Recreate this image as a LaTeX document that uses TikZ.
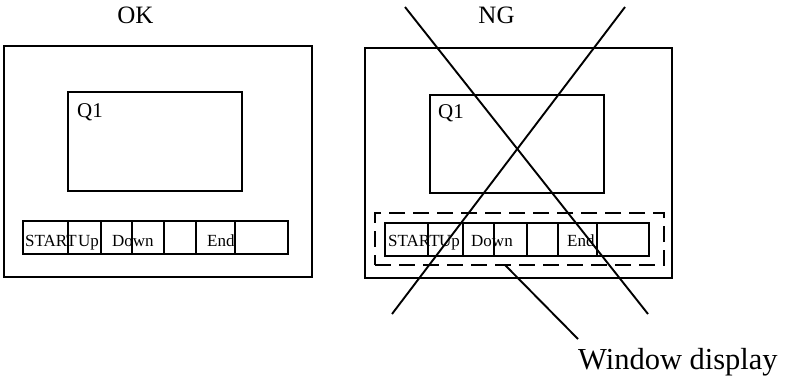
\documentclass[tikz,border=0pt]{standalone}
\usepackage{fontspec}
\setmainfont{Liberation Serif}
\begin{document}
\begin{tikzpicture}[x=1pt,y=-1pt,
  frame/.style={draw, line width=2pt, inner sep=0pt, outer sep=0pt, anchor=north west},
  lbl/.style={inner sep=0pt, anchor=base west},
  btn/.style={lbl, font=\fontsize{17}{17}\selectfont},
  ttl/.style={inner sep=0pt, anchor=base, font=\fontsize{25}{25}\selectfont},
  qtxt/.style={lbl, font=\fontsize{21}{21}\selectfont},
  ln/.style={line width=1.9pt},
  dashbox/.style={draw, line width=2pt, dash pattern=on 16pt off 8pt, inner sep=0pt, outer sep=0pt, anchor=north west}]
\useasboundingbox (0,0) rectangle (786,376);
% ---------- OK ----------
\node[ttl] (ok) at (135.5,23) {OK};
\node[frame, minimum width=308pt, minimum height=231pt] (okframe) at (4,46) {};
\node[frame, minimum width=174pt, minimum height=99pt] (okq) at (68,92) {};
\node[qtxt] (okqlbl) at (77,117) {Q1};
\node[frame, minimum width=265pt, minimum height=33pt] (okbar) at (23,221) {};
\foreach \xx in {68,101,132,164,196,235}
  \draw[line width=2pt] (\xx,221) -- (\xx,254);
\node[btn] (okstart) at (25,246) {START};
\node[btn] (okup) at (78,246) {Up};
\node[btn] (okdown) at (112,246) {Down};
\node[btn] (okend) at (207,246) {End};
% ---------- NG ----------
\node[ttl] (ng) at (496.5,23) {NG};
\node[frame, minimum width=307pt, minimum height=230pt] (ngframe) at (365,48) {};
\node[frame, minimum width=174pt, minimum height=98pt] (ngq) at (430,95) {};
\node[qtxt] (ngqlbl) at (438,118) {Q1};
\node[dashbox, minimum width=289pt, minimum height=52pt] (win) at (375,213) {};
\node[frame, minimum width=264pt, minimum height=33pt] (ngbar) at (385,223) {};
\foreach \xx in {428,463,494,527,558,597}
  \draw[line width=2pt] (\xx,223) -- (\xx,256);
\node[btn] (ngstart) at (388,246) {START};
\node[btn] (ngup) at (439,246) {Up};
\node[btn] (ngdown) at (471,246) {Down};
\node[btn] (ngend) at (567,246) {End};
% cross
\coordinate (a1) at (405,7);
\coordinate (a2) at (648,314);
\coordinate (b1) at (625,7);
\coordinate (b2) at (392,314);
\draw[ln] (a1) -- (a2);
\draw[ln] (b1) -- (b2);
% pointer
\node[lbl, font=\fontsize{30.5}{31}\selectfont] (wd) at (578,369.5) {Window display};
\coordinate (p1) at (505,265);
\coordinate (p2) at (578,339);
\draw[ln] (p1) -- (p2);
\end{tikzpicture}
\end{document}
